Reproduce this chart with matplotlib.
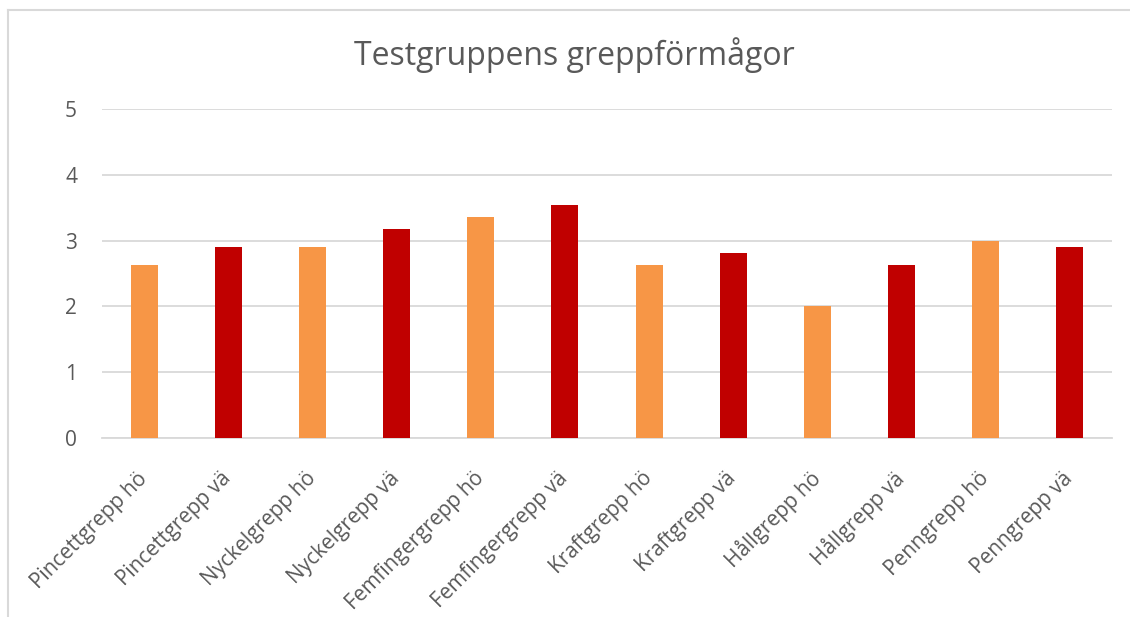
import matplotlib.pyplot as plt
from matplotlib.lines import Line2D

categories = ["Pincettgrepp hö", "Pincettgrepp vä", "Nyckelgrepp hö", "Nyckelgrepp vä",
              "Femfingergrepp hö", "Femfingergrepp vä", "Kraftgrepp hö", "Kraftgrepp vä",
              "Hållgrepp hö", "Hållgrepp vä", "Penngrepp hö", "Penngrepp vä"]
values = [2.636, 2.909, 2.909, 3.182, 3.364, 3.545, 2.636, 2.818, 2.0, 2.636, 3.0, 2.909]
bar_colors = ["#F79646", "#C00000"] * 6
yticks = [0, 1, 2, 3, 4, 5]

plt.rcParams['font.family'] = ['Open Sans', 'DejaVu Sans']
text_color = "#595959"
grid_color = "#D9D9D9"

fig = plt.figure(figsize=(11.3, 6.17), dpi=100)
ax = fig.add_axes([102/1130, 1 - 438/617, 1010/1130, 329/617])

ax.bar(range(len(categories)), values, width=0.32, color=bar_colors, zorder=3)

ax.set_xlim(-0.5, len(categories) - 0.5)
ax.set_ylim(0, 5)
ax.set_yticks(yticks)
ax.yaxis.grid(True, color=grid_color, linewidth=1.3, zorder=0)
ax.set_xticks(range(len(categories)))
ax.set_xticklabels(categories, rotation=45, ha='right', va='center', rotation_mode='anchor')
ax.tick_params(axis='both', length=0, labelsize=15, colors=text_color)
ax.tick_params(axis='y', pad=18)
ax.tick_params(axis='x', pad=27)
for s in ['top', 'right', 'left']:
    ax.spines[s].set_visible(False)
ax.spines['bottom'].set_color(grid_color)
ax.spines['bottom'].set_linewidth(1.3)

fig.text(574/1130, 1 - 55/617, "Testgruppens greppförmågor", ha='center', va='center',
         fontsize=23, color=text_color)

# chart border (only left and top visible in the crop)
fig.add_artist(Line2D([8/1130, 8/1130], [0, 1 - 10/617], color=grid_color, linewidth=1.5,
                      transform=fig.transFigure))
fig.add_artist(Line2D([8/1130, 1], [1 - 10/617, 1 - 10/617], color=grid_color, linewidth=1.5,
                      transform=fig.transFigure))

fig.savefig("out.png", dpi=100)
